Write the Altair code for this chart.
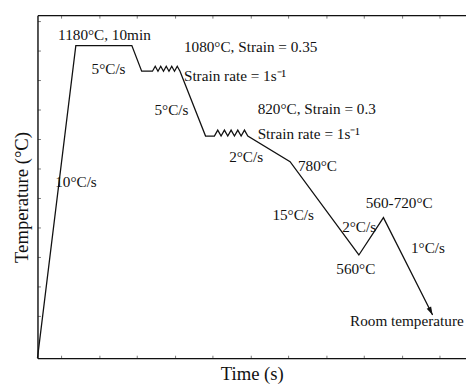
import math
import altair as alt
import pandas as pd

# Schematic thermo-mechanical path (time units, temperature units)
path_t = [0, 39, 96, 106, 117, 119.8, 122.6, 125.4, 128.2, 131, 133.8, 136.6, 139.4, 142.2, 145,
          171, 180, 183.4, 186.8, 190.2, 193.6, 197, 200.4, 203.8, 207.2, 210.6, 214,
          257, 327, 352, 402]
path_T = [0, 318, 318, 292, 292, 297, 292, 297, 292, 297, 292, 297, 292, 297, 292,
          226, 226, 232, 226, 232, 226, 232, 226, 232, 226, 232, 226,
          200, 105, 143, 44]

# Annotations
label_text = ["1180°C, 10min", "5°C/s", "1080°C, Strain = 0.35", "Strain rate = 1s⁻¹",
              "5°C/s", "820°C, Strain = 0.3", "Strain rate = 1s⁻¹", "2°C/s", "780°C",
              "10°C/s", "15°C/s", "2°C/s", "560-720°C", "560°C", "1°C/s", "Room temperature"]
label_t = [21, 55, 149, 149, 119, 224, 224, 195, 265, 18, 239, 310, 334, 304, 380, 318]
label_T = [324, 289, 312, 282, 247, 248, 223, 200, 190, 174, 141, 128, 153, 86, 107, 33]

# Minor (unlabelled) tick positions
x_ticks = [24.3 + 38.5 * i for i in range(12)]
y_ticks = [43 + 30 * i for i in range(11)]

x_domain = [0, 436]
y_domain = [0, 349]

path_df = pd.DataFrame({"t": path_t, "T": path_T, "order": list(range(len(path_t)))})
label_df = pd.DataFrame({"t": label_t, "T": label_T, "text": label_text})

dx = path_t[-1] - path_t[-2]
dy = path_T[-1] - path_T[-2]
arrow_angle = (-math.degrees(math.atan2(dx, -dy))) % 360
arrow_df = pd.DataFrame({"t": [path_t[-1]], "T": [path_T[-1]]})

FONT = "Liberation Serif"

xs = alt.Scale(domain=x_domain, nice=False, zero=False)
ys = alt.Scale(domain=y_domain, nice=False, zero=False)

y_axis = alt.Axis(orient="left", values=y_ticks, labels=False, tickSize={"expr": "-3"},
                  tickColor="#777777", tickWidth=1, domainColor="#111111", domainWidth=1.4,
                  grid=False, title="Temperature (°C)", titleFont=FONT, titleFontSize=19,
                  titleFontWeight="normal", titleColor="#111111", titleAngle=270,
                  titleX=-10, titleY=185, titleBaseline="alphabetic", titleAlign="center")

x_axis_bottom = alt.Axis(orient="bottom", values=x_ticks, labels=False, tickSize={"expr": "-3"},
                         tickColor="#777777", tickWidth=1, domainColor="#111111", domainWidth=1.4,
                         grid=False, title="Time (s)", titleFont=FONT, titleFontSize=19,
                         titleFontWeight="normal", titleColor="#111111",
                         titleX=218, titleY=22, titleBaseline="alphabetic", titleAlign="center")

x_axis_top = alt.Axis(orient="top", values=x_ticks, labels=False, tickSize={"expr": "-3"},
                      tickColor="#777777", tickWidth=1, domainColor="#111111", domainWidth=1.4,
                      grid=False, title="")

line = alt.Chart(path_df).mark_line(color="#111111", strokeWidth=1.3, clip=False).encode(
    x=alt.X("t:Q", scale=xs, axis=x_axis_bottom),
    y=alt.Y("T:Q", scale=ys, axis=y_axis),
    order="order:Q",
)

arrow = alt.Chart(arrow_df).mark_point(
    shape="M0,0 L-0.55,-1.8 L0.55,-1.8 Z", filled=True, color="#111111", opacity=1,
    size=85, angle=arrow_angle, strokeWidth=0,
).encode(
    x=alt.X("t:Q", scale=xs, axis=None),
    y=alt.Y("T:Q", scale=ys, axis=y_axis),
)

labels = alt.Chart(label_df).mark_text(
    font=FONT, fontSize=15.5, align="left", baseline="alphabetic", color="#111111"
).encode(
    x=alt.X("t:Q", scale=xs, axis=x_axis_top),
    y=alt.Y("T:Q", scale=ys, axis=y_axis),
    text="text:N",
)

chart = alt.layer(line, arrow, labels).resolve_axis(x="independent").properties(
    width=436, height=349,
    autosize=alt.AutoSizeParams(type="none"),
    padding={"left": 30, "top": 4, "right": 0, "bottom": 25},
).configure_view(strokeWidth=0).configure(background="white")

chart.save("out.html", embed_options={"renderer": "svg", "actions": False})
